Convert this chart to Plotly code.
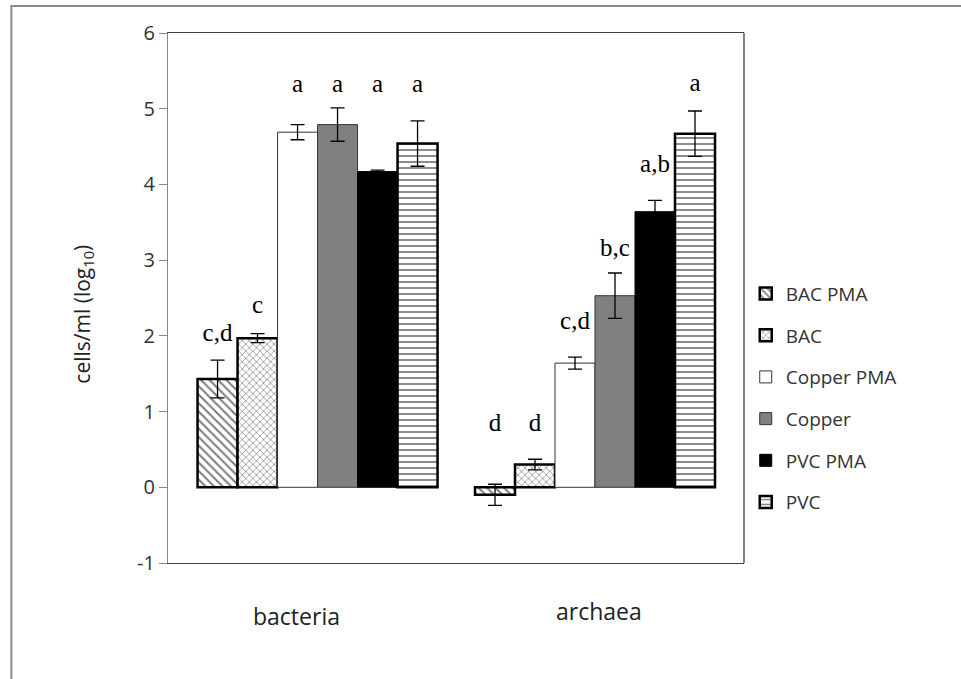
import plotly.graph_objects as go

categories = ["bacteria", "archaea"]
series_names = ["BAC PMA", "BAC", "Copper PMA", "Copper", "PVC PMA", "PVC"]

bac_pma = [1.43, -0.10]
bac_pma_err = [0.25, 0.14]
bac = [1.97, 0.30]
bac_err = [0.06, 0.07]
copper_pma = [4.69, 1.64]
copper_pma_err = [0.10, 0.08]
copper = [4.79, 2.53]
copper_err = [0.22, 0.30]
pvc_pma = [4.17, 3.64]
pvc_pma_err = [0.02, 0.15]
pvc = [4.54, 4.67]
pvc_err = [0.30, 0.30]

# significance letters and the height (log10 units) they are written at
bac_pma_letters = ["c,d", "d"]
bac_pma_letter_y = [2.01, 0.82]
bac_letters = ["c", "d"]
bac_letter_y = [2.38, 0.82]
copper_pma_letters = ["a", "c,d"]
copper_pma_letter_y = [5.30, 2.17]
copper_letters = ["a", "b,c"]
copper_letter_y = [5.30, 3.14]
pvc_pma_letters = ["a", "a,b"]
pvc_pma_letter_y = [5.30, 4.25]
pvc_letters = ["a", "a"]
pvc_letter_y = [5.30, 5.31]

y_ticks = [-1, 0, 1, 2, 3, 4, 5, 6]
y_tick_labels = ["-1", "0", "1", "2", "3", "4", "5", "6"]

values = [bac_pma, bac, copper_pma, copper, pvc_pma, pvc]
errors = [bac_pma_err, bac_err, copper_pma_err, copper_err, pvc_pma_err, pvc_err]
letters = [bac_pma_letters, bac_letters, copper_pma_letters, copper_letters,
           pvc_pma_letters, pvc_letters]
letter_y = [bac_pma_letter_y, bac_letter_y, copper_pma_letter_y, copper_letter_y,
            pvc_pma_letter_y, pvc_letter_y]

styles = [
    dict(color="white", pattern=dict(shape="\\", fgcolor="black", bgcolor="white", size=6, solidity=0.35),
         line=dict(color="black", width=2.5)),
    dict(color="white", pattern=dict(shape="x", fgcolor="black", bgcolor="white", size=5, solidity=0.25),
         line=dict(color="black", width=2.5)),
    dict(color="white", line=dict(color="#333333", width=1)),
    dict(color="#808080", line=dict(color="#333333", width=1)),
    dict(color="black", line=dict(color="black", width=1)),
    dict(color="white", pattern=dict(shape="-", fgcolor="black", bgcolor="white", size=6, solidity=0.3),
         line=dict(color="black", width=2.5)),
]

# grouped layout on a numeric axis: category index + series offset
group_index = list(range(len(categories)))
bar_gap = 0.135
n_series = len(series_names)
bar_w = (1 - bar_gap) / n_series


def series_x(k):
    return [g + (k - (n_series - 1) / 2) * bar_w for g in group_index]


fig = go.Figure()
for k, name in enumerate(series_names):
    fig.add_trace(go.Bar(
        name=name, x=series_x(k), y=values[k], width=bar_w,
        marker=styles[k],
        error_y=dict(type="data", array=errors[k], visible=True,
                     color="black", thickness=1.3, width=7),
        legendgroup=name,
    ))
for k, name in enumerate(series_names):
    fig.add_trace(go.Scatter(
        x=series_x(k), y=letter_y[k], text=letters[k], mode="text",
        textposition="middle center",
        textfont=dict(family="Liberation Serif", size=25, color="black"),
        showlegend=False, hoverinfo="skip",
    ))

fig.update_layout(
    width=961, height=679,
    margin=dict(l=168, r=217, t=33, b=116),
    paper_bgcolor="white", plot_bgcolor="white",
    barmode="overlay",
    showlegend=True,
    legend=dict(x=1.003, xanchor="left", y=0.311, yanchor="middle",
                bgcolor="rgba(0,0,0,0)",
                font=dict(family="Open Sans", size=19, color="#333333"),
                tracegroupgap=14, itemwidth=30),
    font=dict(family="Open Sans", color="#333333"),
)
fig.update_xaxes(
    range=[-0.539, 1.537],
    showline=True, mirror=True, linecolor="#404040", linewidth=1.3,
    showticklabels=False, ticks="", showgrid=False, zeroline=False,
)
fig.update_yaxes(
    range=[-1, 6], tickvals=y_ticks, ticktext=y_tick_labels,
    showline=True, linecolor="#868686", linewidth=1.3,
    ticks="outside", ticklen=8, tickcolor="#868686",
    tickfont=dict(family="Open Sans", size=20, color="#333333"),
    showgrid=False, zeroline=False,
)

# right border of the plot area (dark)
fig.add_shape(type="line", xref="paper", yref="paper", x0=1, x1=1, y0=0, y1=1,
              line=dict(color="#404040", width=1.3))

# category labels
fig.add_annotation(x=group_index[0], y=-0.1, xref="x", yref="paper", text=categories[0],
                   showarrow=False, xshift=-21, xanchor="center", yanchor="middle",
                   font=dict(family="Open Sans", size=23, color="#222222"))
fig.add_annotation(x=group_index[1], y=-0.0906, xref="x", yref="paper", text=categories[1],
                   showarrow=False, xshift=4, xanchor="center", yanchor="middle",
                   font=dict(family="Open Sans", size=23, color="#222222"))

# y-axis title
fig.add_annotation(x=-0.148, y=0.47, xref="paper", yref="paper",
                   xanchor="center", yanchor="middle",
                   text="cells/ml (log<sub>10</sub>)", textangle=-90, showarrow=False,
                   font=dict(family="Open Sans", size=21, color="#222222"))

# outer frame of the chart
fig.add_shape(type="rect", xref="paper", yref="paper",
              x0=-0.272, x1=1.40, y0=-0.26, y1=1.051,
              line=dict(color="#8c8c8c", width=2), fillcolor="rgba(0,0,0,0)")

fig.write_html("out.html", post_script="document.body.style.margin='0';",
               config={"displayModeBar": False})
